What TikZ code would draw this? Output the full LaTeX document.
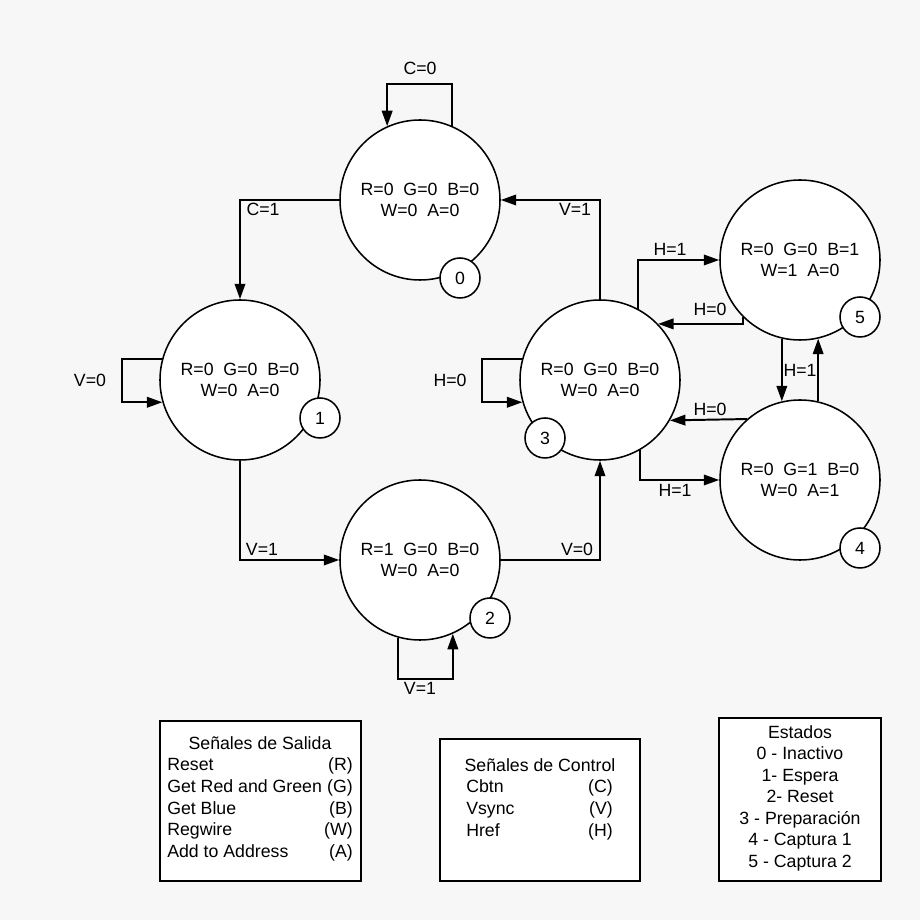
\documentclass[tikz,border=0pt]{standalone}
\usepackage{fontspec}
\setmainfont{Liberation Sans}
\usepackage{tikz}
\usetikzlibrary{calc,arrows.meta}
\usetikzlibrary{positioning}
\definecolor{fsm-bg}{HTML}{F7F7F7}
\definecolor{fsm-line}{HTML}{000000}

\begin{document}
\begin{tikzpicture}[
    >={Triangle[length=11pt, width=7.5pt]},
    font=\fontsize{12.6}{15.5}\selectfont,
    state/.style={draw=fsm-line, fill=white, circle, line width=1.1pt, minimum size=4cm, inner sep=0pt, align=center},
    tag/.style={draw=fsm-line, fill=white, circle, line width=1.1pt, minimum size=1cm, inner sep=0pt},
    conn/.style={->, draw=fsm-line, line width=1.4pt},
    cond/.style={inner sep=1pt, text=fsm-line},
    legend/.style={draw=fsm-line, fill=white, line width=1.8pt, inner sep=0pt},
    item/.style={inner sep=0pt, text=fsm-line}
]

\path[use as bounding box, fill=fsm-bg] (0,0) rectangle (23,23);

% =========================================================================
% ESTADOS
% =========================================================================
\node[state] (s0) at (10.5, 18.0) {R=0~~G=0~~B=0\\W=0~~A=0};
\node[state] (s1) at (6.0, 13.5)  {R=0~~G=0~~B=0\\W=0~~A=0};
\node[state] (s2) at (10.5, 9.0)  {R=1~~G=0~~B=0\\W=0~~A=0};
\node[state] (s3) at (15.0, 13.5) {R=0~~G=0~~B=0\\W=0~~A=0};
\node[state] (s5) at (20.0, 16.5) {R=0~~G=0~~B=1\\W=1~~A=0};
\node[state] (s4) at (20.0, 11.0) {R=0~~G=1~~B=0\\W=0~~A=1};

% numeros de estado
\node[tag] (t0) at (11.5, 16.05)   {0};
\node[tag] (t1) at (8.0, 12.55)    {1};
\node[tag] (t2) at (12.25, 7.55)   {2};
\node[tag] (t3) at (13.625, 12.05) {3};
\node[tag] (t5) at (21.5, 15.075)  {5};
\node[tag] (t4) at (21.5, 9.3)     {4};


% =========================================================================
% TRANSICIONES
% =========================================================================
\draw[conn] (s0.67) -- ++(0,1.03) -| (s0.114);
\node[cond] (c0) at (10.5, 21.3) {C=0};

\draw[conn] (s0.west) -| (s1.north);
\node[cond] (c1) at (6.575, 17.775) {C=1};

\draw[conn] (s1.165) -- ++(-1.0,0) |- (s1.196);
\node[cond] (v0a) at (2.25, 13.5) {V=0};

\draw[conn] (s1.south) |- (s2.west);
\node[cond] (v1a) at (6.55, 9.275) {V=1};

\draw[conn] (s2.254) -- ++(0,-1.03) -| (s2.294);
\node[cond] (v1b) at (10.5, 5.8) {V=1};

\draw[conn] (s2.east) -| (s3.south);
\node[cond] (v0b) at (14.425, 9.275) {V=0};

\draw[conn] (s3.165) -- ++(-1.0,0) |- (s3.196);
\node[cond] (h0a) at (11.25, 13.5) {H=0};

\draw[conn] (s3.north) |- (s0.east);
\node[cond] (v1c) at (14.375, 17.775) {V=1};

% captura
\draw[conn] (s3.62) |- (s5.west);
\node[cond] (h1a) at (16.75, 16.775) {H=1};

\draw[conn] (s5.225) |- (s3.44);
\node[cond] (h0b) at (17.75, 15.275) {H=0};

\draw[conn] (s5.257) -- (s4.103);
\draw[conn] (s4.77) -- (s5.283);
\node[cond] (h1b) at (20.0, 13.75) {H=1};

\draw[conn] (s4.131) -- (s3.-30);
\node[cond] (h0c) at (17.75, 12.775) {H=0};

\draw[conn] (s3.-60) |- (s4.west);
\node[cond] (h1c) at (16.875, 10.75) {H=1};


% =========================================================================
% LEYENDAS
% =========================================================================
\node[legend, minimum width=5.025cm, minimum height=4.0cm] (salida) at (6.5125, 2.975) {};
\node[item, anchor=base] (salida-tit) at (6.5, 4.265) {Señales de Salida};
\foreach \txt/\sig [count=\i] in {Reset/R, Get Red and Green/G, Get Blue/B, Regwire/W, Add to Address/A} {
    \node[item, anchor=base west] (sal-\i) at (4.175, {4.265-0.54*\i}) {\txt};
    \node[item, anchor=base east] (salsig-\i) at (8.825, {4.265-0.54*\i}) {(\sig)};
}

\node[legend, minimum width=5.0cm, minimum height=3.55cm] (control) at (13.5, 2.75) {};
\node[item, anchor=base] (control-tit) at (13.5, 3.715) {Señales de Control};
\foreach \txt/\sig [count=\i] in {Cbtn/C, Vsync/V, Href/H} {
    \node[item, anchor=base west] (ctl-\i) at (11.65, {3.715-0.54*\i}) {\txt};
    \node[item, anchor=base east] (ctlsig-\i) at (15.325, {3.715-0.54*\i}) {(\sig)};
}

\node[legend, minimum width=4.05cm, minimum height=4.075cm] (estados) at (20.0, 3.0125) {};
\foreach \txt [count=\i from 0] in {Estados, 0 - Inactivo, 1- Espera, 2- Reset, 3 - Preparación, 4 - Captura 1, 5 - Captura 2} {
    \node[item, anchor=base] (est-\i) at (20.0, {4.54-0.5375*\i}) {\txt};
}

\end{tikzpicture}
\end{document}
